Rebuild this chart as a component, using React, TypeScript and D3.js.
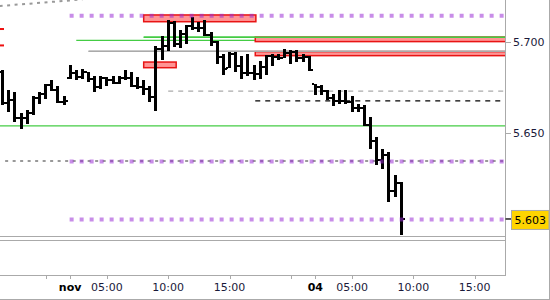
import React from "react";
import * as d3 from "d3";

// ---- data (30-minute OHLC bars) ----
const opens = [5.6835,5.6666,5.6682,5.6583,5.6583,5.6611,5.6693,5.6715,5.6764,5.6737,5.6671,5.6803,5.6830,5.6808,5.6835,5.6797,5.6753,5.6803,5.6792,5.6775,5.6803,5.6803,5.6759,5.6753,5.6742,5.6698,5.6961,5.6978,5.7104,5.6989,5.7044,5.7088,5.7077,5.7077,5.7038,5.7000,5.6918,5.6857,5.6934,5.6868,5.6830,5.6830,5.6825,5.6863,5.6923,5.6918,5.6912,5.6940,5.6945,5.6912,5.6918,5.6770,5.6753,5.6731,5.6693,5.6676,5.6676,5.6671,5.6638,5.6638,5.6545,5.6457,5.6353,5.6381,5.6183,5.6227];
const highs = [5.6846,5.6737,5.6726,5.6611,5.6627,5.6704,5.6726,5.6770,5.6792,5.6759,5.6704,5.6874,5.6846,5.6852,5.6835,5.6814,5.6814,5.6808,5.6814,5.6814,5.6846,5.6835,5.6808,5.6792,5.6759,5.6978,5.7033,5.7120,5.7115,5.7066,5.7093,5.7137,5.7109,5.7120,5.7055,5.7005,5.6934,5.6945,5.6945,5.6923,5.6934,5.6874,5.6896,5.6929,5.6934,5.6934,5.6961,5.6956,5.6956,5.6934,5.6923,5.6770,5.6764,5.6737,5.6715,5.6737,5.6737,5.6704,5.6660,5.6655,5.6589,5.6479,5.6413,5.6397,5.6271,5.6233];
const lows = [5.6655,5.6616,5.6561,5.6523,5.6550,5.6600,5.6660,5.6687,5.6731,5.6666,5.6655,5.6797,5.6792,5.6797,5.6781,5.6726,5.6742,5.6759,5.6770,5.6770,5.6792,5.6753,5.6742,5.6709,5.6671,5.6622,5.6901,5.6950,5.6972,5.6967,5.6989,5.7066,5.7055,5.7033,5.6978,5.6879,5.6819,5.6857,5.6835,5.6797,5.6814,5.6792,5.6797,5.6819,5.6868,5.6901,5.6912,5.6879,5.6890,5.6890,5.6841,5.6709,5.6709,5.6682,5.6649,5.6660,5.6660,5.6616,5.6616,5.6540,5.6413,5.6326,5.6304,5.6123,5.6150,5.5942];
const closes = [5.6666,5.6682,5.6583,5.6583,5.6611,5.6693,5.6715,5.6764,5.6737,5.6671,5.6676,5.6830,5.6808,5.6835,5.6797,5.6753,5.6803,5.6792,5.6775,5.6803,5.6803,5.6759,5.6753,5.6742,5.6698,5.6961,5.6978,5.7104,5.6989,5.7044,5.7088,5.7077,5.7077,5.7038,5.7000,5.6918,5.6852,5.6934,5.6868,5.6830,5.6830,5.6825,5.6863,5.6923,5.6918,5.6912,5.6940,5.6945,5.6912,5.6918,5.6846,5.6753,5.6731,5.6693,5.6676,5.6676,5.6671,5.6638,5.6638,5.6545,5.6457,5.6353,5.6381,5.6183,5.6227,5.6030];

// x-axis ticks (bar index) and labels
const tickIndex = [7, 11, 17, 27, 37, 47, 51, 57, 67, 77];
const tickLabels = ["", "nov", "05:00", "10:00", "15:00", "", "04", "05:00", "10:00", "15:00"];
const tickBold = [false, true, false, false, false, false, true, false, false, false];

// y-axis ticks
const yTicks = [5.700, 5.650];
const lastPrice = 5.603;

// horizontal levels: [price, startIndex]
const purpleLevels = [5.7144, 5.6345, 5.6027];
const purpleStart = [11, 11, 11];
const greenLevels = [5.7026, 5.7009, 5.6540];
const greenStart = [23, 12, -0.5];
const graySolidLevel = 5.6949;
const graySolidStart = 14;
const grayDashedLevel = 5.6731;
const grayDashedStart = 27;
const blackDashedLevel = 5.6677;
const blackDashedStart = 41.2;
const grayDottedLevel = 5.6348;
const grayDottedStart = 0.4;
// dotted trend line: [index, price]
const trendIdx = [-0.5, 13];
const trendPrice = [5.7197, 5.7233];

// zones: startIdx, endIdx, top price, bottom price
const zoneStart = [23, 23, 41.2, 41.2];
const zoneEnd = [41.3, 28.3, 82, 82];
const zoneTop = [5.7148, 5.6890, 5.7026, 5.6947];
const zoneBottom = [5.7111, 5.6859, 5.7002, 5.6925];

// small red markers on the left edge
const redMarks = [5.7071, 5.6981];

const PLOT_R = 505.5;
const PLOT_B = 275;

export default function App() {
  const x = d3.scaleLinear().domain([0, 1]).range([2.7, 2.7 + 6.13]);
  const y = d3.scaleLinear().domain([5.5723, 5.7230]).range([PLOT_B, 0]);
  const font = "'DejaVu Sans', Verdana, sans-serif";
  const trendLine = d3.line<number>()
    .x((_, k) => x(trendIdx[k]))
    .y((p) => y(p));

  return (
    <svg width={550} height={300} style={{ position: "absolute", left: 0, top: 0, background: "#fff" }}>
      <defs>
        <clipPath id="plot">
          <rect x={0} y={0} width={PLOT_R} height={236} />
        </clipPath>
      </defs>

      <g clipPath="url(#plot)">
        {/* trend line */}
        <path d={trendLine(trendPrice) || ""} stroke="#999" strokeWidth={2} strokeDasharray="3 4.5" fill="none" />
        {/* green levels under zones */}
        {greenLevels.map((p, k) => (
          <line key={"g" + k} x1={Math.max(0, x(greenStart[k]))} x2={PLOT_R} y1={y(p)} y2={y(p)} stroke="#44cc44" strokeWidth={1.3} />
        ))}
        <line x1={x(graySolidStart)} x2={PLOT_R} y1={y(graySolidLevel)} y2={y(graySolidLevel)} stroke="#aaaaaa" strokeWidth={1.6} />
        <line x1={x(grayDashedStart)} x2={PLOT_R} y1={y(grayDashedLevel)} y2={y(grayDashedLevel)} stroke="#aaaaaa" strokeWidth={1.3} strokeDasharray="5 5" />
        <line x1={x(blackDashedStart)} x2={PLOT_R} y1={y(blackDashedLevel)} y2={y(blackDashedLevel)} stroke="#000" strokeWidth={1.3} strokeDasharray="5 5" />
        <line x1={x(grayDottedStart)} x2={PLOT_R} y1={y(grayDottedLevel)} y2={y(grayDottedLevel)} stroke="#999" strokeWidth={2} strokeDasharray="3 4.5" />

        {/* zones */}
        {zoneStart.map((s, k) => (
          <rect key={"z" + k}
            x={x(s)} y={y(zoneTop[k])}
            width={Math.min(PLOT_R, x(zoneEnd[k])) - x(s) + (zoneEnd[k] > 80 ? 2 : 0)}
            height={y(zoneBottom[k]) - y(zoneTop[k])}
            fill="#ff9494" stroke="#e81414" strokeWidth={1.5} />
        ))}
        <line x1={x(greenStart[0])} x2={PLOT_R} y1={y(greenLevels[0])} y2={y(greenLevels[0])} stroke="#44cc44" strokeWidth={1.3} />
        <line x1={x(graySolidStart)} x2={PLOT_R} y1={y(graySolidLevel)} y2={y(graySolidLevel)} stroke="#aaaaaa" strokeWidth={1.2} />

        {redMarks.map((p, k) => (
          <rect key={"r" + k} x={0} y={y(p) - 1} width={4} height={2} fill="#ee1111" />
        ))}

        {/* OHLC bars */}
        <g shapeRendering="crispEdges" fill="#000">
          {highs.map((h, i) => {
            const left = Math.round(x(i) - 1.5);
            return (
              <g key={"b" + i}>
                <rect x={left} y={y(h)} width={3} height={Math.max(1, y(lows[i]) - y(h))} />
                <rect x={left - 2} y={y(opens[i]) - 1} width={2} height={2} />
                <rect x={left + 3} y={y(closes[i]) - 1} width={2} height={2} />
              </g>
            );
          })}
        </g>

        {/* purple dotted levels on top */}
        {purpleLevels.map((p, k) => (
          <line key={"p" + k} x1={x(purpleStart[k]) - 0.5} x2={PLOT_R} y1={y(p)} y2={y(p)}
            stroke="#9b30d6" strokeOpacity={0.55} strokeWidth={4} strokeDasharray="4 6" />
        ))}
      </g>

      {/* frame */}
      <g stroke="#aaaaaa" strokeWidth={1} fill="none" shapeRendering="crispEdges">
        <line x1={PLOT_R} x2={PLOT_R} y1={0} y2={PLOT_B} />
        <line x1={0} x2={PLOT_R} y1={236.5} y2={236.5} />
        <line x1={0} x2={PLOT_R} y1={240.5} y2={240.5} />
        <line x1={0} x2={PLOT_R} y1={PLOT_B + 0.5} y2={PLOT_B + 0.5} />
        <line x1={549.5} x2={549.5} y1={0} y2={300} />
        <line x1={0} x2={550} y1={299.5} y2={299.5} />
        {tickIndex.map((t, k) => (
          <line key={"t" + k} x1={Math.round(x(t)) + 0.5} x2={Math.round(x(t)) + 0.5} y1={PLOT_B} y2={PLOT_B + 4} />
        ))}
        {yTicks.map((v, k) => (
          <line key={"yt" + k} x1={PLOT_R} x2={PLOT_R + 5} y1={Math.round(y(v)) + 0.5} y2={Math.round(y(v)) + 0.5} />
        ))}
      </g>

      {/* x labels */}
      {tickIndex.map((t, k) => tickLabels[k] ? (
        <text key={"xl" + k} x={x(t)} y={291} textAnchor="middle" fontFamily={font} fontSize={11}
          fontWeight={tickBold[k] ? "bold" : "normal"} fill={tickBold[k] ? "#000" : "#1a1a3a"}>
          {tickLabels[k]}
        </text>
      ) : null)}

      {/* y labels */}
      {yTicks.map((v, k) => (
        <text key={"yl" + k} x={513} y={y(v)} dy="0.35em" fontFamily={font} fontSize={11} fill="#1a1a3a">
          {v.toFixed(3)}
        </text>
      ))}

      {/* last price label */}
      <line x1={PLOT_R} x2={512} y1={y(lastPrice)} y2={y(lastPrice)} stroke="#000" strokeWidth={1.3} />
      <rect x={511.5} y={y(lastPrice) - 8.5} width={37.5} height={19} fill="#ffd400" stroke="#aaaaaa" strokeWidth={1} />
      <text x={514.5} y={y(lastPrice) + 1} dy="0.35em" fontFamily={font} fontSize={11} fill="#000">
        {lastPrice.toFixed(3)}
      </text>
    </svg>
  );
}
